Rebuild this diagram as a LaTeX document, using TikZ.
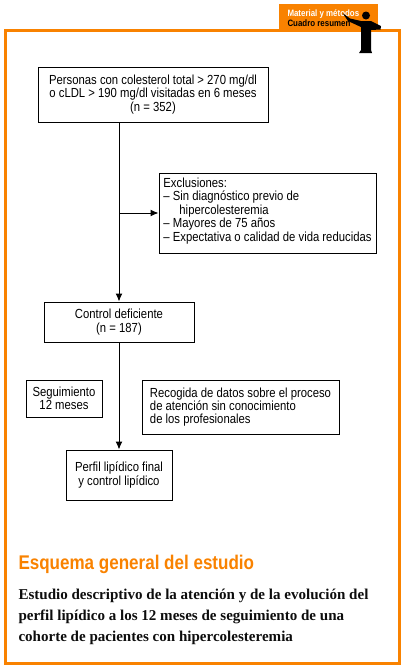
\documentclass[tikz,border=0pt]{standalone}
\usepackage{fontspec}
\setmainfont{Liberation Sans}
\newfontfamily\bodyfont{Liberation Serif}
\newfontfamily\narrowfont[FakeStretch=0.86]{Liberation Sans}
\usepackage{xcolor}
\usetikzlibrary{arrows.meta}
\definecolor{frameorange}{HTML}{F98200}
\tikzset{
  boxnode/.style={draw,line width=1pt,inner sep=0pt,align=center,font=\narrowfont\fontsize{13.15}{13.4}\selectfont},
  listnode/.style={boxnode,align=left},
  tabtext/.style={anchor=base west,inner sep=0pt,font=\narrowfont\bfseries\fontsize{9.2}{10}\selectfont},
  bodyline/.style={anchor=base west,inner sep=0pt,font=\bodyfont\bfseries\fontsize{15.05}{16}\selectfont,text=black!95},
}
\newcommand{\drawPointer}{% figure on the tab
  \fill (366,15.5) circle (4);
  \fill (361,21) -- (371,21) -- (381,26) -- (380.5,29.5) -- (371,30) -- (371,50) -- (372,53) -- (359,53) -- (361,50) -- (361,27) -- (348,21) -- (342.5,13) -- (350,18.5) -- cycle;
}
\begin{document}
\begin{tikzpicture}[x=1pt,y=-1pt,>={Latex[length=8pt,width=7pt]},line width=1pt]
\useasboundingbox (0,0) rectangle (405,667);

% Frame and tab
\fill[frameorange] (279,4) rectangle (378,30);
\draw[frameorange,line width=3pt] (5,30.5) rectangle (399.5,663.5);
\node[tabtext,text=white] (tabtop) at (287,16.5) {Material y métodos};
\node[tabtext,text=black] (tabbottom) at (287,26.5) {Cuadro resumen};
\drawPointer

% Boxes
\node[boxnode,minimum width=230pt,minimum height=55pt] (personas) at (153,94.5) {Personas con colesterol total > 270 mg/dl\\o cLDL > 190 mg/dl visitadas en 6 meses\\(n = 352)};
\node[listnode,minimum width=217pt,minimum height=80pt] (exclusiones) at (267.5,213) {Exclusiones:\\– Sin diagnóstico previo de\\\hspace{16pt}hipercolesteremia\\– Mayores de 75 años\\– Expectativa o calidad de vida reducidas\rule[-7pt]{0pt}{7pt}};
\node[boxnode,minimum width=150pt,minimum height=40pt] (control) at (119,322) {Control deficiente\\(n = 187)};
\node[boxnode,minimum width=76pt,minimum height=37pt] (seguimiento) at (64,398.5) {Seguimiento\\12 meses};
\node[listnode,minimum width=197pt,minimum height=54pt] (recogida) at (240.5,407) {Recogida de datos sobre el proceso\\de atención sin conocimiento\\de los profesionales};
\node[boxnode,minimum width=106pt,minimum height=50pt] (perfil) at (119,475) {Perfil lipídico final\\y control lipídico};

% Connectors
\coordinate (branch) at (exclusiones.west -| control);
\draw[->] (personas.south -| control) -- (control.north);
\draw[->] (branch) -- (exclusiones.west);
\draw[->] (control) -- (perfil.north);

% Caption
\node[anchor=base west,inner sep=0pt,text=frameorange,font=\narrowfont\bfseries\fontsize{19.8}{20}\selectfont] (titulo) at (18,569) {Esquema general del estudio};
\node[bodyline] (lineone) at (18,599) {Estudio descriptivo de la atención y de la evolución del};
\node[bodyline] (linetwo) at (18,620) {perfil lipídico a los 12 meses de seguimiento de una};
\node[bodyline] (linethree) at (18,641) {cohorte de pacientes con hipercolesteremia};
\end{tikzpicture}
\end{document}
